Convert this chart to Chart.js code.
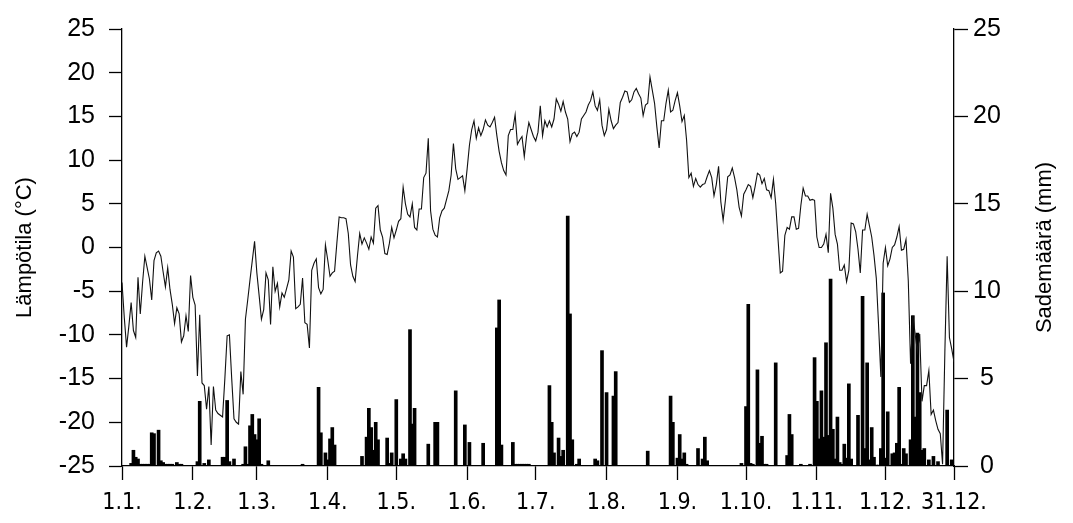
<!DOCTYPE html>
<html>
<head>
<meta charset="utf-8">
<script src="https://cdn.jsdelivr.net/npm/chart.js@4"></script>
<style>
html,body{margin:0;padding:0;background:#fff;}
#wrap{width:1073px;height:523px;}
</style>
</head>
<body>
<div id="wrap"><canvas id="c" width="1073" height="523"></canvas></div>
<script>
// X axis ticks (day of year, 0 = 1.1.)
const tickDays = [0, 31, 59, 90, 120, 151, 181, 212, 243, 273, 304, 334, 364];
const tickLabels = ['1.1.', '1.2.', '1.3.', '1.4.', '1.5.', '1.6.', '1.7.', '1.8.', '1.9.', '1.10.', '1.11.', '1.12.', '31.12.'];

const leftTitle = 'Lämpötila (°C)';
const rightTitle = 'Sademäärä (mm)';

// Daily mean temperature (°C), day 0..364
const temperature = [
  -4.0, -8.0, -11.4, -9.0, -6.3, -9.5, -10.3, -3.4, -7.6, -4.0,
  -1.0, -2.3, -3.6, -6.0, -1.5, -0.6, -0.4, -1.0, -2.8, -4.5,
  -2.3, -4.8, -6.5, -8.7, -6.9, -7.6, -10.8, -10.1, -7.8, -9.6,
  -3.2, -5.7, -6.6, -14.7, -7.7, -15.5, -15.8, -18.5, -15.9, -22.6,
  -15.9, -18.6, -19.0, -19.2, -19.4, -15.0, -10.1, -10.0, -15.0, -19.6,
  -20.0, -20.2, -14.2, -16.8, -8.2, -6.0, -3.7, -1.5, 0.7, -2.9,
  -5.5, -8.2, -7.1, -2.9, -3.7, -8.8, -2.2, -5.0, -4.1, -6.8,
  -5.2, -5.7, -4.7, -3.7, -0.4, -1.1, -7.0, -6.8, -6.5, -3.5,
  -8.6, -8.8, -11.5, -2.6, -1.8, -1.3, -4.6, -5.3, -4.8, 0.3,
  -1.4, -3.3, -2.9, -2.7, 0.5, 3.5, 3.4, 3.4, 3.3, 1.6,
  -2.0, -3.3, -3.9, -1.0, 1.6, 0.4, 1.1, 0.5, -0.2, 1.2,
  0.5, 4.5, 4.8, 2.0, 1.2, -0.7, -0.8, 0.5, 2.3, 1.1,
  2.0, 3.0, 3.3, 6.9, 5.0, 3.8, 3.5, 5.0, 2.3, 2.0,
  4.4, 4.4, 8.0, 8.5, 12.5, 4.2, 2.1, 1.4, 1.2, 3.4,
  4.2, 4.5, 5.5, 6.5, 8.3, 11.9, 9.0, 7.8, 8.0, 8.2,
  6.5, 9.0, 11.7, 13.5, 14.5, 12.5, 13.7, 12.8, 13.5, 14.6,
  14.0, 13.8, 14.3, 14.9, 12.8, 11.0, 9.7, 8.8, 8.3, 12.8,
  13.5, 13.5, 15.2, 11.8, 12.3, 12.7, 10.4, 12.7, 14.3, 13.5,
  12.7, 12.2, 13.2, 16.2, 12.8, 14.5, 13.8, 14.5, 13.8, 14.7,
  17.0, 16.4, 15.6, 16.7, 15.5, 14.7, 12.1, 13.0, 13.2, 12.7,
  13.2, 14.7, 15.1, 15.5, 16.3, 16.8, 17.8, 16.2, 15.7, 16.9,
  14.0, 12.8, 13.5, 15.8, 14.5, 13.6, 14.0, 14.3, 16.6, 17.2,
  17.9, 17.8, 16.6, 16.9, 17.8, 18.2, 17.6, 17.1, 15.1, 16.3,
  16.5, 19.5, 18.0, 16.5, 13.8, 11.4, 14.5, 14.5, 16.5, 18.0,
  15.5, 15.7, 16.8, 17.7, 16.2, 14.4, 15.1, 12.3, 8.0, 8.5,
  7.0, 7.9, 7.2, 6.9, 7.2, 7.3, 8.1, 8.8, 8.0, 5.9,
  7.2, 9.3, 5.2, 3.1, 5.4, 8.1, 8.3, 9.1, 8.0, 6.6,
  4.6, 3.6, 6.1, 6.6, 7.2, 7.0, 5.7, 7.0, 8.5, 8.3,
  7.3, 7.9, 6.6, 6.5, 5.7, 7.8, 5.0, 1.0, -2.9, -2.7,
  1.4, 2.3, 2.1, 3.5, 3.5, 2.1, 2.2, 4.8, 6.8, 5.9,
  5.9, 5.4, 5.5, 5.4, 1.2, 0.0, 0.0, 0.4, 1.5, -0.6,
  6.2, 4.5, 1.5, 0.4, -2.6, -2.6, -2.0, -3.9, -2.6, 2.8,
  2.7, 1.8, -0.2, -2.9, 2.0, 2.0, 3.8, 2.5, 1.2, -0.9,
  -3.5, -8.9, -14.8, -1.8, 0.0, -2.1, -1.3, 0.0, 0.3, 1.2,
  2.4, -0.3, -0.2, 0.9, -3.8, -13.3, -7.8, -9.9, -11.9, -9.9,
  -17.6, -15.8, -15.8, -14.1, -19.1, -18.6, -19.8, -20.8, -21.3, -24.8,
  -12.0, -1.0, -10.3, -11.6, -13.1
];

// Daily precipitation (mm), day 0..364
const precipitation = [
  0, 0, 0, 0, 0.15, 0.9, 0.5, 0.4, 0.1, 0.1,
  0.1, 0.1, 0.1, 1.9, 1.85, 0, 2.05, 0.3, 0.2, 0.1,
  0.1, 0.1, 0.1, 0, 0.2, 0.1, 0.1, 0, 0, 0,
  0, 0, 0, 0.25, 3.7, 0, 0.15, 0, 0.35, 0,
  0, 0, 0, 0, 0.5, 0.5, 3.75, 0.25, 0, 0.4,
  0, 0, 0, 0.1, 1.1, 0.1, 2.3, 2.95, 1.8, 1.5,
  2.7, 0.1, 0, 0, 0.3, 0, 0, 0, 0, 0,
  0, 0, 0, 0, 0, 0, 0, 0, 0, 0.1,
  0, 0, 0, 0, 0, 0, 4.5, 1.9, 0, 0.75,
  0.35, 1.55, 2.2, 1.2, 0, 0, 0, 0, 0, 0,
  0, 0, 0, 0, 0, 0.55, 0, 1.65, 3.3, 2.2,
  0.9, 2.5, 1.5, 0, 0, 0, 1.6, 0.15, 0.75, 0,
  3.8, 0, 0.4, 0.7, 0.4, 0, 7.8, 2.4, 3.3, 0,
  0, 0, 0, 0, 1.25, 0, 0, 2.5, 2.5, 0,
  0, 0, 0, 0, 0, 0, 4.3, 0, 0, 0,
  2.35, 0, 1.35, 0, 0, 0, 0, 0, 1.3, 0,
  0, 0, 0, 0, 7.9, 9.5, 1.2, 0, 0, 0,
  0, 1.35, 0.1, 0.1, 0.1, 0.1, 0.1, 0.1, 0.1, 0,
  0, 0, 0, 0, 0, 0, 0, 4.6, 2.5, 0.75,
  0, 1.6, 0.55, 0.9, 0, 14.3, 8.7, 1.5, 0, 0.1,
  0.4, 0, 0, 0, 0, 0, 0, 0.4, 0.3, 0,
  6.6, 0, 4.2, 0, 0, 4.0, 5.4, 0, 0, 0,
  0, 0, 0, 0, 0, 0, 0, 0, 0, 0,
  0.85, 0, 0, 0, 0, 0, 0, 0, 0, 0,
  4.0, 2.5, 0, 0.45, 1.8, 0.4, 0.75, 0.1, 0, 0,
  0, 0, 1.0, 0, 0.4, 1.65, 0.3, 0, 0, 0,
  0, 0, 0, 0, 0, 0, 0, 0, 0, 0,
  0, 0.15, 0, 3.4, 9.25, 0.15, 0.1, 0, 5.5, 1.3,
  1.7, 0.1, 0.1, 0, 0, 0, 5.9, 0, 0, 0,
  0, 0.6, 2.95, 1.8, 0, 0, 0, 0.1, 0, 0,
  0, 0.1, 0, 6.2, 3.7, 1.55, 4.3, 1.65, 7.05, 1.75,
  10.7, 2.1, 0.4, 2.8, 0.2, 0.1, 1.25, 0.45, 4.7, 0.4,
  0, 0, 2.9, 0, 9.7, 1.0, 5.9, 0.35, 2.2, 0.5,
  0.05, 0.05, 1.0, 9.9, 0.45, 3.1, 0, 0.7, 0.75, 1.3,
  4.5, 0.1, 1.0, 0.7, 0, 1.5, 8.6, 2.8, 7.6, 4.2,
  0.9, 1.0, 0, 0.35, 0, 0.55, 0, 0.25, 0, 0,
  0, 3.2, 0, 0.35, 0
];

const days = temperature.map((_, i) => i);
const AX = '#000';
const SANS = '"Liberation Sans", Arial, Helvetica, sans-serif';
const NARROW = '"Liberation Sans Narrow", "DejaVu Sans Condensed", "Liberation Sans", sans-serif';

const rightTitlePlugin = {
  id: 'rightTitle',
  afterDraw(chart) {
    const { ctx, chartArea } = chart;
    const s = chart.scales.y1;
    ctx.save();
    ctx.translate(s.right - 28, (chartArea.top + chartArea.bottom) / 2);
    ctx.rotate(-Math.PI / 2);
    ctx.font = '22px ' + SANS;
    ctx.fillStyle = '#000';
    ctx.textAlign = 'center';
    ctx.textBaseline = 'middle';
    ctx.fillText(rightTitle, 0, 0);
    ctx.restore();
  }
};

new Chart(document.getElementById('c'), {
  type: 'bar',
  data: {
    datasets: [
      {
        type: 'line',
        label: 'Lämpötila',
        data: days.map(d => ({ x: d, y: temperature[d] })),
        xAxisID: 'x',
        yAxisID: 'y',
        borderColor: '#111',
        borderWidth: 1.1,
        pointRadius: 0,
        tension: 0,
        fill: false,
        order: 0
      },
      {
        type: 'bar',
        label: 'Sademäärä',
        data: days.map(d => ({ x: d, y: precipitation[d] })),
        xAxisID: 'x',
        yAxisID: 'y1',
        backgroundColor: '#000',
        borderWidth: 0,
        barThickness: 3,
        order: 1
      }
    ]
  },
  options: {
    responsive: false,
    animation: false,
    devicePixelRatio: 1,
    layout: { padding: { top: 22, left: 0, right: 0, bottom: 0 } },
    plugins: { legend: { display: false }, tooltip: { enabled: false } },
    scales: {
      x: {
        type: 'linear',
        position: 'bottom',
        min: 0,
        max: 364,
        offset: false,
        afterBuildTicks: s => { s.ticks = tickDays.map(v => ({ value: v })); },
        afterFit: s => { s.height = 57; },
        ticks: {
          callback: (v, i) => tickLabels[i],
          autoSkip: false,
          maxRotation: 0,
          minRotation: 0,
          padding: 9,
          color: '#000',
          font: { family: NARROW, size: 23 }
        },
        grid: { drawOnChartArea: false, offset: false, tickLength: 14, tickColor: AX, tickWidth: 1.3 },
        border: { display: true, color: AX, width: 1.3 }
      },
      y: {
        type: 'linear',
        position: 'left',
        min: -25,
        max: 25,
        afterFit: s => { s.width = 122; },
        ticks: { stepSize: 5, padding: 14, color: '#000', font: { family: SANS, size: 25 } },
        grid: { drawOnChartArea: false, tickLength: 13, tickColor: AX, tickWidth: 1.3 },
        border: { display: true, color: AX, width: 1.3 },
        title: { display: true, text: leftTitle, color: '#000', font: { family: SANS, size: 22 }, padding: { top: 12, bottom: 0 } }
      },
      y1: {
        type: 'linear',
        position: 'right',
        min: 0,
        max: 25,
        afterFit: s => { s.width = 119; },
        ticks: { stepSize: 5, padding: 5, crossAlign: 'center', color: '#000', font: { family: SANS, size: 25 } },
        grid: { drawOnChartArea: false, tickLength: 14, tickColor: AX, tickWidth: 1.3 },
        border: { display: true, color: AX, width: 1.3 }
      }
    }
  },
  plugins: [rightTitlePlugin]
});
</script>
</body>
</html>
